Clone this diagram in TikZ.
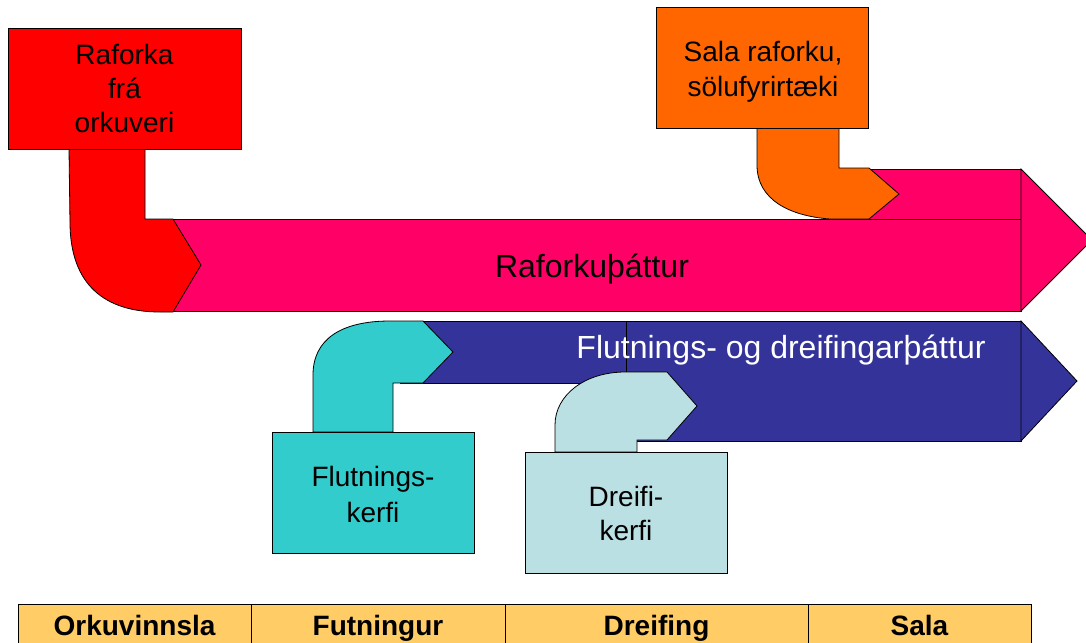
\documentclass[tikz,border=0pt]{standalone}
\usepackage{fontspec}
\setmainfont{Liberation Sans}
\definecolor{cRed}{HTML}{FF0000}
\definecolor{cPink}{HTML}{FF0066}
\definecolor{cOrange}{HTML}{FF6600}
\definecolor{cNavy}{HTML}{333399}
\definecolor{cCyan}{HTML}{33CCCC}
\definecolor{cLight}{HTML}{BBE0E3}
\definecolor{cTab}{HTML}{FFCC66}
\begin{document}
\begin{tikzpicture}[x=0.75pt,y=-0.75pt,
  shp/.style={draw=black,line width=0.6pt,line join=miter},
  boxn/.style={shp,inner sep=0pt,align=center,font=\fontsize{21}{25.5}\selectfont},
  boxt/.style={inner sep=0pt,align=center,font=\fontsize{21}{26.5}\selectfont},
  band/.style={font=\fontsize{24}{28}\selectfont,anchor=base,inner sep=0pt},
  cell/.style={shp,fill=cTab,inner sep=0pt,minimum height=36pt,text height=15pt,text depth=4pt,font=\fontsize{21}{25}\selectfont\bfseries}]

\useasboundingbox (0,0) rectangle (1086,643);
\clip (0,0) rectangle (1086,643);

% Raforkuthattur band
\draw[shp,fill=cPink] (840,169) rectangle (1021,219);
\draw[shp,fill=cPink] (173,219) rectangle (1021,311);
\draw[shp,fill=cPink] (1021,169) -- (1092,240) -- (1021,311) -- cycle;
% red bend
\draw[shp,fill=cRed] (69,149) -- (70,222) .. controls (70,285) and (105,312) .. (160,312) -- (173,312) -- (201,265) -- (173,219) -- (145,219) -- (145,149) -- cycle;
% orange bend
\draw[shp,fill=cOrange] (757,128) -- (757,165) .. controls (757,200) and (790,216) .. (830,219) -- (869,219) -- (899,194) -- (869,168) -- (839,168) -- (839,128) -- cycle;

% Flutnings band
\draw[shp,fill=cNavy] (400,321) rectangle (1021,383);
\draw[shp,fill=cNavy] (626,321) rectangle (1021,441);
\draw[shp,fill=cNavy] (1021,321) -- (1077,381) -- (1021,441) -- cycle;
% cyan bend
\draw[shp,fill=cCyan] (313,432) -- (313,375) .. controls (313,340) and (340,321) .. (390,321) -- (423,321) -- (453,352) -- (423,383) -- (393,383) -- (393,432) -- cycle;
% light blue bend
\draw[shp,fill=cLight] (555,452) -- (555,425) .. controls (555,395) and (585,372) .. (625,372) -- (667,372) -- (697,406) -- (667,440) -- (637,440) -- (637,452) -- cycle;

% boxes
\node[boxn,fill=cRed,minimum width=174.75pt,minimum height=90.75pt] (raf) at (124.5,88.5) {Raforka\\frá\\orkuveri};
\node[boxn,fill=cOrange,minimum width=159pt,minimum height=90.75pt] (sala) at (762,67.5) {};
\node[boxt] (salatxt) at (763,71.5) {Sala raforku,\\sölufyrirtæki};
\node[boxn,fill=cCyan,minimum width=151.5pt,minimum height=90.75pt] (flk) at (373,492.5) {};
\node[boxt] (flktxt) at (373,494.5) {Flutnings-\\kerfi};
\node[boxn,fill=cLight,minimum width=151.5pt,minimum height=90.75pt] (drk) at (626,513) {Dreifi-\\kerfi};

% band labels
\node[band] (rafth) at (592,277) {Raforkuþáttur};
\node[band,text=white] (flth) at (781,358) {Flutnings- og dreifingarþáttur};

% table
\node[cell,minimum width=174.75pt] (c1) at (134.5,628) {Orkuvinnsla};
\node[cell,minimum width=190.5pt] (c2) at (378,628) {Futningur};
\node[cell,minimum width=227.25pt] (c3) at (656.5,628) {Dreifing};
\node[cell,minimum width=167.25pt] (c4) at (919.5,628) {Sala};
\end{tikzpicture}
\end{document}
